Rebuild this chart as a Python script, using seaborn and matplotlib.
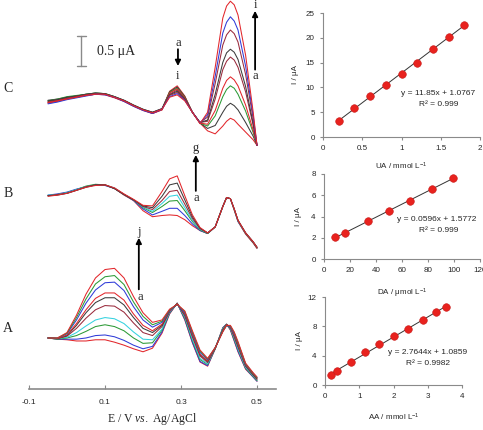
import numpy as np
import pandas as pd
import matplotlib
matplotlib.use('Agg')
import matplotlib.pyplot as plt
import seaborn as sns

# ---- left panel: DPV curves, current in uA relative to the start of each set ----
E = [-0.05, -0.025, 0.0, 0.025, 0.05, 0.075, 0.1, 0.125, 0.15, 0.175, 0.2, 0.225, 0.25,
     0.27, 0.29, 0.31, 0.33, 0.35, 0.37, 0.39, 0.41, 0.42, 0.43, 0.44, 0.45, 0.47, 0.49, 0.5]

# set A : AA varied (a -> j)
A_curves = [
    [0.00, -0.02, -0.03, -0.05, -0.05, -0.03, -0.03, -0.07, -0.12, -0.18, -0.23, -0.17, 0.08, 0.40, 0.58, 0.30, -0.08, -0.40, -0.47, -0.18, 0.17, 0.23, 0.13, -0.05, -0.23, -0.52, -0.65, -0.72],
    [0.00, -0.02, -0.02, -0.02, 0.00, 0.04, 0.05, 0.02, -0.04, -0.12, -0.18, -0.14, 0.10, 0.41, 0.58, 0.31, -0.07, -0.39, -0.46, -0.18, 0.17, 0.23, 0.14, -0.04, -0.22, -0.51, -0.65, -0.72],
    [0.00, -0.02, 0.00, 0.04, 0.11, 0.19, 0.22, 0.19, 0.12, 0.00, -0.09, -0.08, 0.13, 0.42, 0.58, 0.33, -0.04, -0.36, -0.44, -0.18, 0.16, 0.23, 0.15, -0.02, -0.19, -0.50, -0.64, -0.71],
    [0.00, -0.01, 0.01, 0.09, 0.20, 0.30, 0.34, 0.32, 0.24, 0.10, -0.02, -0.03, 0.15, 0.43, 0.57, 0.35, -0.02, -0.34, -0.43, -0.17, 0.15, 0.22, 0.16, 0.00, -0.18, -0.49, -0.63, -0.70],
    [0.00, -0.01, 0.03, 0.16, 0.33, 0.47, 0.54, 0.53, 0.43, 0.25, 0.09, 0.04, 0.19, 0.44, 0.57, 0.37, 0.02, -0.30, -0.41, -0.17, 0.14, 0.22, 0.17, 0.02, -0.15, -0.47, -0.62, -0.69],
    [0.00, -0.01, 0.04, 0.21, 0.42, 0.59, 0.67, 0.67, 0.55, 0.34, 0.16, 0.09, 0.21, 0.45, 0.57, 0.39, 0.04, -0.28, -0.39, -0.17, 0.13, 0.22, 0.18, 0.04, -0.13, -0.46, -0.61, -0.68],
    [0.00, -0.01, 0.05, 0.24, 0.47, 0.66, 0.75, 0.75, 0.63, 0.40, 0.21, 0.12, 0.23, 0.45, 0.57, 0.40, 0.05, -0.27, -0.38, -0.17, 0.12, 0.22, 0.18, 0.05, -0.12, -0.45, -0.60, -0.67],
    [0.00, 0.00, 0.07, 0.30, 0.58, 0.80, 0.92, 0.93, 0.79, 0.52, 0.30, 0.18, 0.26, 0.46, 0.56, 0.42, 0.08, -0.24, -0.36, -0.16, 0.11, 0.21, 0.19, 0.07, -0.09, -0.44, -0.59, -0.66],
    [0.00, 0.00, 0.08, 0.34, 0.65, 0.90, 1.02, 1.04, 0.89, 0.60, 0.36, 0.22, 0.28, 0.47, 0.56, 0.44, 0.10, -0.22, -0.35, -0.16, 0.11, 0.21, 0.20, 0.09, -0.08, -0.43, -0.59, -0.66],
    [0.00, 0.00, 0.09, 0.38, 0.73, 1.00, 1.14, 1.16, 1.00, 0.69, 0.42, 0.26, 0.30, 0.48, 0.56, 0.45, 0.12, -0.20, -0.34, -0.16, 0.10, 0.21, 0.21, 0.10, -0.06, -0.42, -0.58, -0.65],
]

# set B : DA varied (a -> g)
B_curves = [
    [0.00, 0.02, 0.05, 0.10, 0.15, 0.18, 0.18, 0.12, 0.01, -0.08, -0.25, -0.35, -0.33, -0.32, -0.33, -0.40, -0.50, -0.58, -0.63, -0.52, -0.18, -0.03, -0.05, -0.24, -0.43, -0.64, -0.79, -0.88],
    [0.01, 0.03, 0.06, 0.11, 0.15, 0.18, 0.17, 0.12, 0.02, -0.08, -0.22, -0.32, -0.26, -0.21, -0.21, -0.33, -0.47, -0.58, -0.63, -0.52, -0.18, -0.03, -0.05, -0.23, -0.43, -0.63, -0.78, -0.87],
    [0.00, 0.02, 0.05, 0.10, 0.16, 0.19, 0.18, 0.12, 0.02, -0.07, -0.20, -0.28, -0.18, -0.09, -0.08, -0.25, -0.43, -0.57, -0.63, -0.52, -0.18, -0.03, -0.05, -0.23, -0.42, -0.63, -0.78, -0.87],
    [0.01, 0.02, 0.05, 0.10, 0.15, 0.18, 0.18, 0.13, 0.02, -0.07, -0.19, -0.26, -0.13, -0.01, 0.01, -0.20, -0.41, -0.56, -0.62, -0.52, -0.18, -0.03, -0.05, -0.23, -0.42, -0.62, -0.77, -0.86],
    [0.00, 0.02, 0.04, 0.09, 0.15, 0.18, 0.18, 0.12, 0.02, -0.07, -0.18, -0.23, -0.08, 0.07, 0.09, -0.14, -0.38, -0.55, -0.62, -0.52, -0.18, -0.03, -0.05, -0.22, -0.41, -0.62, -0.77, -0.86],
    [0.00, 0.01, 0.04, 0.09, 0.14, 0.18, 0.18, 0.12, 0.02, -0.07, -0.17, -0.20, -0.01, 0.18, 0.21, -0.07, -0.35, -0.54, -0.62, -0.52, -0.18, -0.03, -0.05, -0.22, -0.41, -0.62, -0.77, -0.86],
    [-0.01, 0.01, 0.04, 0.09, 0.14, 0.17, 0.18, 0.13, 0.03, -0.06, -0.16, -0.17, 0.07, 0.28, 0.33, 0.00, -0.32, -0.53, -0.62, -0.52, -0.18, -0.03, -0.05, -0.22, -0.41, -0.62, -0.77, -0.86],
]

# set C : UA varied (a -> i)
C_curves = [
    [0.00, 0.03, 0.06, 0.08, 0.11, 0.13, 0.12, 0.07, 0.01, -0.07, -0.14, -0.19, -0.13, 0.18, 0.27, 0.10, -0.17, -0.35, -0.48, -0.53, -0.40, -0.32, -0.27, -0.30, -0.37, -0.50, -0.63, -0.72],
    [0.03, 0.05, 0.08, 0.10, 0.13, 0.15, 0.14, 0.09, 0.03, -0.05, -0.12, -0.17, -0.11, 0.17, 0.25, 0.09, -0.17, -0.35, -0.44, -0.39, -0.17, -0.07, -0.02, -0.06, -0.13, -0.34, -0.57, -0.72],
    [0.02, 0.05, 0.09, 0.11, 0.13, 0.15, 0.14, 0.09, 0.02, -0.06, -0.13, -0.18, -0.12, 0.16, 0.23, 0.08, -0.17, -0.35, -0.40, -0.23, 0.09, 0.21, 0.27, 0.23, 0.13, -0.15, -0.51, -0.72],
    [-0.02, 0.01, 0.05, 0.08, 0.11, 0.13, 0.13, 0.08, 0.02, -0.06, -0.13, -0.19, -0.13, 0.15, 0.22, 0.07, -0.17, -0.35, -0.37, -0.14, 0.23, 0.36, 0.42, 0.37, 0.27, -0.05, -0.47, -0.72],
    [0.01, 0.04, 0.07, 0.10, 0.12, 0.14, 0.13, 0.08, 0.02, -0.06, -0.13, -0.18, -0.12, 0.13, 0.20, 0.06, -0.17, -0.34, -0.32, 0.05, 0.54, 0.68, 0.75, 0.70, 0.58, 0.17, -0.39, -0.72],
    [0.02, 0.04, 0.08, 0.10, 0.13, 0.15, 0.14, 0.09, 0.03, -0.05, -0.12, -0.17, -0.11, 0.12, 0.18, 0.05, -0.17, -0.34, -0.30, 0.13, 0.66, 0.82, 0.88, 0.83, 0.71, 0.26, -0.36, -0.72],
    [-0.01, 0.02, 0.06, 0.09, 0.12, 0.14, 0.13, 0.08, 0.02, -0.06, -0.13, -0.18, -0.12, 0.11, 0.16, 0.04, -0.17, -0.34, -0.25, 0.31, 0.95, 1.12, 1.20, 1.14, 1.00, 0.46, -0.28, -0.72],
    [-0.03, 0.00, 0.04, 0.07, 0.10, 0.13, 0.12, 0.08, 0.01, -0.07, -0.14, -0.19, -0.12, 0.09, 0.14, 0.03, -0.17, -0.35, -0.21, 0.43, 1.15, 1.33, 1.42, 1.35, 1.20, 0.60, -0.23, -0.72],
    [-0.01, 0.02, 0.05, 0.08, 0.11, 0.13, 0.13, 0.08, 0.02, -0.06, -0.13, -0.18, -0.12, 0.08, 0.12, 0.02, -0.17, -0.36, -0.17, 0.58, 1.40, 1.60, 1.68, 1.62, 1.45, 0.78, -0.17, -0.72],
]

# vertical offsets of the three sets (uA)
offsets = {'A': 0.85, 'B': 3.22, 'C': 4.78}

RED, BLUE, GREEN, CYAN, MAROON, GRAY = '#e2262b', '#2f3bd8', '#2c9a36', '#34d2df', '#9a2a3c', '#3c3c3c'
A_colors = [RED, BLUE, GREEN, CYAN, MAROON, GRAY, RED, BLUE, GREEN, RED]
B_colors = [RED, BLUE, GREEN, CYAN, MAROON, GRAY, RED]
C_colors = [RED, GRAY, GREEN, RED, MAROON, GRAY, MAROON, BLUE, RED]

# ---- right panels: calibration plots ----
UA_conc = [0.2, 0.4, 0.6, 0.8, 1.0, 1.2, 1.4, 1.6, 1.8]
UA_I = [3.2, 5.9, 8.3, 10.4, 12.8, 15.0, 17.7, 20.2, 22.6]
DA_conc = [8.5, 16.5, 33.5, 50, 66, 83, 99]
DA_I = [2.05, 2.45, 3.6, 4.5, 5.45, 6.55, 7.65]
AA_conc = [0.17, 0.34, 0.77, 1.17, 1.58, 2.02, 2.43, 2.85, 3.25, 3.52]
AA_I = [1.3, 1.9, 3.2, 4.5, 5.6, 6.7, 7.6, 8.9, 9.9, 10.6]

sns.set_style('ticks')
plt.rcParams['font.family'] = ['Liberation Sans', 'DejaVu Sans']
plt.rcParams['mathtext.fontset'] = 'custom'
plt.rcParams['mathtext.rm'] = 'Liberation Sans'
plt.rcParams['mathtext.it'] = 'Liberation Serif:italic'
SERIF = ['Liberation Serif', 'DejaVu Serif']

W, H = 483, 430
fig = plt.figure(figsize=(W / 100, H / 100), dpi=100)

# left panel
ax = fig.add_axes([29 / W, 41 / H, 247 / W, 389 / H])
for key, curves, cols in [('A', A_curves, A_colors), ('B', B_curves, B_colors), ('C', C_curves, C_colors)]:
    rows = []
    for k, vals in enumerate(curves):
        for e, v in zip(E, vals):
            rows.append({'E': e, 'I': v + offsets[key], 'curve': chr(97 + k)})
    df = pd.DataFrame(rows)
    sns.lineplot(data=df, x='E', y='I', hue='curve', palette=cols, legend=False,
                 estimator=None, sort=False, lw=0.75, ax=ax)

ax.set_xlim(-0.1, 0.55)
ax.set_ylim(0, 6.48)
ax.set_yticks([])
for s in ['left', 'top', 'right']:
    ax.spines[s].set_visible(False)
ax.spines['bottom'].set_color('#8a8a8a')
ax.spines['bottom'].set_linewidth(1.2)
ax.set_xticks([-0.1, 0.1, 0.3, 0.5])
ax.set_xticklabels(['-0.1', '0.1', '0.3', '0.5'])
ax.tick_params(axis='x', direction='in', length=3, color='#8a8a8a', labelsize=6, pad=7)
ax.set_xlabel(r'E / V $\it{vs.}$ Ag/AgCl', family=SERIF, fontsize=8.5, labelpad=4)
ax.set_ylabel('')

# scale bar
ax.plot([0.037, 0.037], [5.38, 5.88], color='#8a8a8a', lw=1)
ax.plot([0.026, 0.049], [5.88, 5.88], color='#8a8a8a', lw=1)
ax.plot([0.026, 0.049], [5.38, 5.38], color='#8a8a8a', lw=1)
ax.text(0.079, 5.63, '0.5 μA', family=SERIF, fontsize=10, va='center', ha='left')

# arrows and letters
arrow = dict(arrowstyle='-|>', color='black', lw=1.3, mutation_scale=8, shrinkA=0, shrinkB=0)
ax.annotate('', xy=(0.292, 5.38), xytext=(0.292, 5.66), arrowprops=arrow)
ax.text(0.292, 5.77, 'a', family=SERIF, fontsize=9, ha='center', va='center')
ax.text(0.292, 5.22, 'i', family=SERIF, fontsize=9, ha='center', va='center')
ax.annotate('', xy=(0.495, 6.30), xytext=(0.495, 5.32), arrowprops=arrow)
ax.text(0.495, 6.39, 'i', family=SERIF, fontsize=9, ha='center', va='center')
ax.text(0.495, 5.22, 'a', family=SERIF, fontsize=9, ha='center', va='center')
ax.annotate('', xy=(0.339, 3.90), xytext=(0.339, 3.30), arrowprops=arrow)
ax.text(0.339, 4.02, 'g', family=SERIF, fontsize=9, ha='center', va='center')
ax.text(0.339, 3.18, 'a', family=SERIF, fontsize=9, ha='center', va='center')
ax.annotate('', xy=(0.189, 2.52), xytext=(0.189, 1.66), arrowprops=arrow)
ax.text(0.189, 2.62, 'j', family=SERIF, fontsize=9, ha='center', va='center')
ax.text(0.192, 1.53, 'a', family=SERIF, fontsize=9, ha='center', va='center')

for lab, ypx in [('C', 88), ('B', 193), ('A', 329)]:
    fig.text(8 / W, 1 - ypx / H, lab, family=SERIF, fontsize=10, ha='center', va='center')

# right panels
def calib(rect, x, y, xlim, ylim, xt, yt, xlabel, xpad, eq, r2, txy, ylab_x):
    a = fig.add_axes(rect)
    a.patch.set_alpha(0)
    sns.regplot(x=x, y=y, ax=a, ci=None,
                scatter_kws=dict(s=30, color='#e8221e', edgecolors='#c81a18', linewidths=0.4, zorder=3, alpha=1),
                line_kws=dict(color='#333333', lw=0.7))
    a.set_xlim(*xlim)
    a.set_ylim(*ylim)
    a.set_xticks(xt)
    a.set_xticklabels(['%g' % v for v in xt])
    a.set_yticks(yt)
    a.set_yticklabels(['%g' % v for v in yt])
    for s in ['top', 'right']:
        a.spines[s].set_visible(False)
    for s in ['left', 'bottom']:
        a.spines[s].set_color('#8a8a8a')
        a.spines[s].set_linewidth(0.8)
    a.tick_params(direction='out', length=2.5, width=0.8, color='#8a8a8a', labelsize=5.8, pad=3.5)
    a.set_xlabel(xlabel, fontsize=5.8, labelpad=xpad)
    a.set_ylabel('I / μA', fontsize=5.8)
    a.yaxis.set_label_coords(ylab_x, 0.5)
    a.text(txy[0], txy[1], eq, transform=a.transAxes, fontsize=6, ha='center', va='center')
    a.text(txy[0] + 0.01, txy[1] - 11 / (rect[3] * H), r2, transform=a.transAxes,
           fontsize=6, ha='center', va='center')
    return a

calib([323 / W, (H - 137) / H, 157 / W, 124 / H], UA_conc, UA_I, (0, 2), (0, 25),
      [0, 0.5, 1, 1.5, 2], [0, 5, 10, 15, 20, 25], r'UA / mmol L$^{-1}$', 6,
      'y = 11.85x + 1.0767', 'R² = 0.999', (0.73, 0.35), -0.15)
calib([324 / W, (H - 259) / H, 156 / W, 85 / H], DA_conc, DA_I, (0, 120), (0, 8),
      [0, 20, 40, 60, 80, 100, 120], [0, 2, 4, 6, 8], r'DA / μmol L$^{-1}$', 9,
      'y = 0.0596x + 1.5772', 'R² = 0.999', (0.725, 0.47), -0.14)
calib([325 / W, (H - 385) / H, 137 / W, 88 / H], AA_conc, AA_I, (0, 4), (0, 12),
      [0, 1, 2, 3, 4], [0, 4, 8, 12], r'AA / mmol L$^{-1}$', 8,
      'y = 2.7644x + 1.0859', 'R² = 0.9982', (0.745, 0.365), -0.16)

fig.savefig('out.png', dpi=100)
